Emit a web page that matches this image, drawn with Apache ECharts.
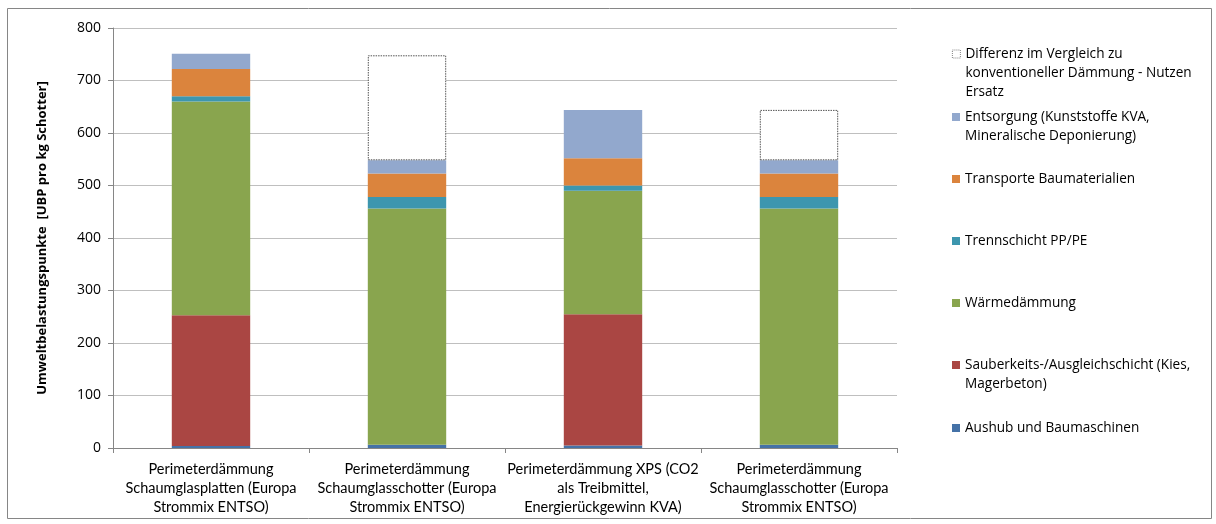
<!DOCTYPE html>
<html>
<head>
<meta charset="utf-8">
<script src="https://cdn.jsdelivr.net/npm/echarts@6/dist/echarts.min.js"></script>
<style>
  html, body { margin: 0; padding: 0; background: #fff; }
  #chart { width: 1216px; height: 524px; }
</style>
</head>
<body>
<div id="chart"></div>
<script>
// categories (line breaks as in the original axis labels)
var categories = [
    'Perimeterdämmung\nSchaumglasplatten (Europa\nStrommix ENTSO)',
    'Perimeterdämmung\nSchaumglasschotter (Europa\nStrommix ENTSO)',
    'Perimeterdämmung XPS (CO2\nals Treibmittel,\nEnergierückgewinn KVA)',
    'Perimeterdämmung\nSchaumglasschotter (Europa\nStrommix ENTSO)'
];

var seriesNames = [
    'Aushub und Baumaschinen',
    'Sauberkeits-/Ausgleichschicht (Kies, Magerbeton)',
    'Wärmedämmung',
    'Trennschicht PP/PE',
    'Transporte Baumaterialien',
    'Entsorgung (Kunststoffe KVA, Mineralische Deponierung)',
    'Differenz im Vergleich zu konventioneller Dämmung - Nutzen Ersatz'
];
// how the legend wraps each name
var legendLines = [
    ['Aushub und Baumaschinen'],
    ['Sauberkeits-/Ausgleichschicht (Kies,', 'Magerbeton)'],
    ['Wärmedämmung'],
    ['Trennschicht PP/PE'],
    ['Transporte Baumaterialien'],
    ['Entsorgung (Kunststoffe KVA,', 'Mineralische Deponierung)'],
    ['Differenz im Vergleich zu', 'konventioneller Dämmung - Nutzen', 'Ersatz']
];

var aushub      = [4, 6, 5, 6];
var sauberkeit  = [249, 0, 250, 0];
var waerme      = [407, 450, 235, 450];
var trennschicht = [10, 22, 10, 22];
var transporte  = [52, 45, 52, 45];
var entsorgung  = [29, 25, 92, 25];
var differenz   = [null, 200, null, 96];

var yTicks = [0, 100, 200, 300, 400, 500, 600, 700, 800];

var colors = ['#4572A7', '#AA4643', '#89A54E', '#3D96AE', '#DB843D', '#92A8CD', '#ffffff'];
var values = [aushub, sauberkeit, waerme, trennschicht, transporte, entsorgung, differenz];

var font = 'Lato, "Open Sans", sans-serif';
var legendFont = '"Open Sans", Lato, sans-serif';
var lh = 19;

var myChart = echarts.init(document.getElementById('chart'));

var series = [];
for (var i = 0; i < seriesNames.length; i++) {
    var s = {
        name: seriesNames[i],
        type: 'bar',
        stack: 'total',
        barWidth: '40%',
        data: values[i],
        itemStyle: {color: colors[i]}
    };
    if (i === 6) {
        s.itemStyle = {color: '#ffffff', borderColor: '#555555', borderWidth: 1, borderType: [1.5, 1]};
    }
    series.push(s);
}

// one legend per item so the icons sit on an even pitch like the original
var iconY = [428, 365, 303, 241, 179, 117, 54];
var legends = [];
seriesNames.forEach(function (name, i) {
    var lines = legendLines[i];
    var n = lines.length;
    var pad = [];
    for (var k = 0; k < n - 1; k++) pad.push('');
    var total = 2 * n - 1;
    var lg = {
        data: [name],
        orient: 'vertical',
        left: 952,
        top: iconY[i] - total * lh / 2,
        padding: 0,
        itemWidth: 8,
        itemHeight: 8,
        icon: 'rect',
        selectedMode: false,
        formatter: function () {
            return pad.concat(lines).join('\n');
        },
        textStyle: {fontFamily: legendFont, fontSize: 13.6, color: '#000', lineHeight: lh}
    };
    if (i === 6) {
        lg.itemStyle = {borderColor: '#666666', borderWidth: 0.8, borderType: [1, 1]};
    }
    legends.push(lg);
});

var option = {
    animation: false,
    backgroundColor: '#fff',
    grid: {left: 113, top: 28, width: 784, height: 420},
    legend: legends,
    xAxis: {
        type: 'category',
        data: categories,
        axisLine: {lineStyle: {color: '#868686'}},
        axisTick: {show: true, length: 5, lineStyle: {color: '#868686'}},
        axisLabel: {
            interval: 0, margin: 12,
            fontFamily: font, fontSize: 14.5, color: '#000', lineHeight: lh
        }
    },
    yAxis: {
        type: 'value',
        min: yTicks[0],
        max: yTicks[yTicks.length - 1],
        interval: 100,
        name: 'Umweltbelastungspunkte  [UBP pro kg Schotter]',
        nameLocation: 'middle',
        nameRotate: 90,
        nameGap: 64,
        nameTextStyle: {fontFamily: legendFont, fontSize: 13, fontWeight: 'bold', color: '#000'},
        axisLine: {show: true, lineStyle: {color: '#868686'}},
        axisTick: {show: true, length: 5, lineStyle: {color: '#868686'}},
        splitLine: {lineStyle: {color: '#bfbfbf'}},
        axisLabel: {margin: 12, fontFamily: legendFont, fontSize: 14, color: '#000'}
    },
    graphic: [{
        type: 'rect',
        shape: {x: 7.5, y: 8.5, width: 1204, height: 510},
        style: {fill: 'none', stroke: '#868686', lineWidth: 1},
        silent: true
    }],
    series: series
};

myChart.setOption(option, true);
window.onresize = function () {
    setTimeout(function () {
        myChart.resize();
    }, 200);
};
</script>
</body>
</html>
